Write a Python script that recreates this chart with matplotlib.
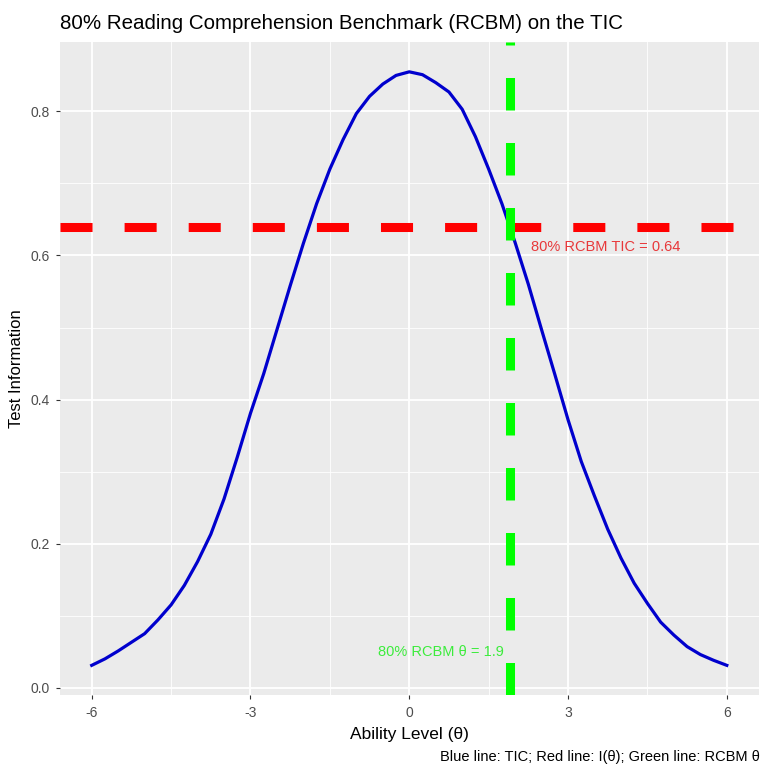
import matplotlib.pyplot as plt
import numpy as np

plt.rcParams['font.family'] = ['Liberation Sans', 'DejaVu Sans']
plt.rcParams['axes.unicode_minus'] = False

# test information curve
theta = [-6, -5.75, -5.5, -5.25, -5, -4.75, -4.5, -4.25, -4, -3.75, -3.5, -3.25, -3,
         -2.75, -2.5, -2.25, -2, -1.75, -1.5, -1.25, -1, -0.75, -0.5, -0.25, 0,
         0.25, 0.5, 0.75, 1, 1.25, 1.5, 1.75, 2, 2.25, 2.5, 2.75, 3,
         3.25, 3.5, 3.75, 4, 4.25, 4.5, 4.75, 5, 5.25, 5.5, 5.75, 6]
info = [0.031, 0.040, 0.051, 0.063, 0.075, 0.094, 0.115, 0.142, 0.175, 0.213, 0.262, 0.320, 0.381,
        0.436, 0.497, 0.558, 0.617, 0.672, 0.720, 0.761, 0.797, 0.821, 0.838, 0.850, 0.855,
        0.851, 0.840, 0.827, 0.803, 0.765, 0.720, 0.672, 0.618, 0.560, 0.497, 0.435, 0.372,
        0.314, 0.266, 0.220, 0.180, 0.145, 0.117, 0.091, 0.073, 0.057, 0.046, 0.038, 0.031]

rcbm_tic = 0.64
rcbm_theta = 1.9

xticks = [-6, -3, 0, 3, 6]
yticks = [0.0, 0.2, 0.4, 0.6, 0.8]

fig = plt.figure(figsize=(7.61, 7.69), dpi=100)
ax = fig.add_axes([0.0788, 0.0962, 0.918, 0.849])
ax.set_facecolor('#EBEBEB')

x = np.array(theta)
y = np.array(info)
xpad = 0.05 * (x.max() - x.min())
ypad = 0.05 * (y.max() - y.min())
ax.set_xlim(x.min() - xpad, x.max() + xpad)
ax.set_ylim(y.min() - ypad, y.max() + ypad)

# grid like ggplot
ax.set_xticks(xticks)
ax.set_yticks(yticks)
ax.set_xticks([-4.5, -1.5, 1.5, 4.5], minor=True)
ax.set_yticks([0.1, 0.3, 0.5, 0.7], minor=True)
ax.grid(which='major', color='white', linewidth=1.3)
ax.grid(which='minor', color='white', linewidth=0.6)
ax.set_axisbelow(True)
for s in ax.spines.values():
    s.set_visible(False)
ax.tick_params(which='major', length=3, width=0.8, color='#333333',
               labelcolor='#4D4D4D', labelsize=10, pad=4)
ax.tick_params(axis='x', pad=5)
ax.tick_params(which='minor', length=0)
ax.set_yticklabels([f'{v:.1f}' for v in yticks])

ax.plot(theta, info, color='#0000CD', linewidth=2.3, solid_joinstyle='round', zorder=3)
ax.axhline(rcbm_tic, color='#FF0000', linewidth=6.5, linestyle=(0, (3.55, 3.55)), zorder=4)
ax.axvline(rcbm_theta, color='#00FF00', linewidth=6.5, linestyle=(0, (3.6, 3.6)), zorder=4)

ax.text(rcbm_theta + 0.4, rcbm_tic - 0.028, f'80% RCBM TIC = {rcbm_tic}',
        color='#E8383A', fontsize=10.5, ha='left', va='center', zorder=5)
ax.text(rcbm_theta - 0.12, 0.049, f'80% RCBM θ = {rcbm_theta}',
        color='#3CEB3C', fontsize=10.5, ha='right', va='center', zorder=5)

ax.set_xlabel('Ability Level (θ)', fontsize=12.5, labelpad=5)
ax.set_ylabel('Test Information', fontsize=12, labelpad=5)
fig.text(0.0788, 0.970, '80% Reading Comprehension Benchmark (RCBM) on the TIC',
         fontsize=14.8, ha='left', va='center')
fig.text(0.999, 0.0156, 'Blue line: TIC; Red line: I(θ); Green line: RCBM θ',
         fontsize=10.5, ha='right', va='center')

fig.savefig('out.png', dpi=100)
